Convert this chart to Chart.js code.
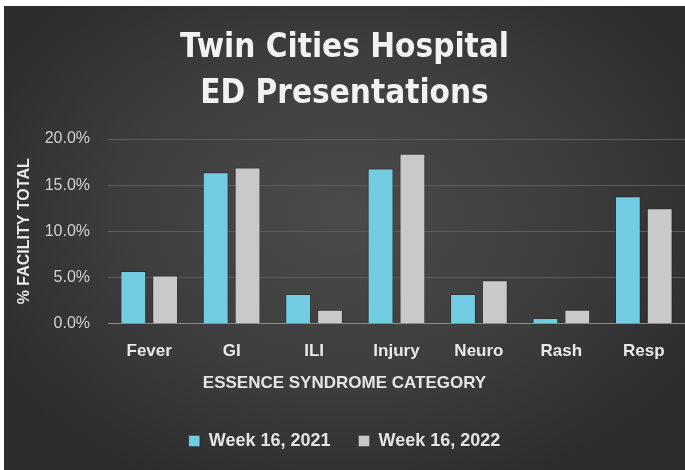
<!DOCTYPE html>
<html>
<head>
<meta charset="utf-8">
<script src="https://cdn.jsdelivr.net/npm/chart.js@4.4.1/dist/chart.umd.min.js"></script>
<style>
  html, body { margin: 0; padding: 0; background: #ffffff; overflow: hidden; }
  #wrap {
    position: absolute; left: 4px; top: 6px; width: 681px; height: 464px;
    background: radial-gradient(ellipse 60% 65% at 50% 45%, #4b4b4b 0%, #3d3d3d 55%, #2c2c2c 100%);
  }
</style>
</head>
<body>
<div id="wrap"><canvas id="edChart" width="681" height="464"></canvas></div>
<script>
// Twin Cities Hospital - ED presentations by ESSENCE syndrome category (% of facility total)
const categories = ['Fever', 'GI', 'ILI', 'Injury', 'Neuro', 'Rash', 'Resp'];
const week16_2021 = [5.7, 16.4, 3.2, 16.8, 3.2, 0.6, 13.8];
const week16_2022 = [5.2, 16.9, 1.5, 18.4, 4.7, 1.5, 12.5];
const seriesLabels = ['Week 16, 2021', 'Week 16, 2022'];
const yTicks = [0, 5, 10, 15, 20];

const fontMain = '"Liberation Sans", Arial, sans-serif';

const ctx = document.getElementById('edChart').getContext('2d');
new Chart(ctx, {
    type: 'bar',
    data: {
        labels: categories,
        datasets: [
            {
                label: seriesLabels[0],
                data: week16_2021,
                backgroundColor: '#72cde2',
                borderColor: 'rgba(20,20,20,0.3)',
                borderWidth: 1
            },
            {
                label: seriesLabels[1],
                data: week16_2022,
                backgroundColor: '#c9c9c9',
                borderColor: 'rgba(20,20,20,0.3)',
                borderWidth: 1
            }
        ]
    },
    options: {
        responsive: false,
        animation: false,
        categoryPercentage: 0.773,
        barPercentage: 0.81,
        layout: { padding: { left: 0, right: 0, top: 0, bottom: 10 } },
        plugins: {
            title: {
                display: true,
                text: ['Twin Cities Hospital', 'ED Presentations'],
                color: '#f2f2f2',
                font: { family: '"DejaVu Sans Condensed", "DejaVu Sans", sans-serif', size: 33, weight: 'bold', lineHeight: 1.394 },
                padding: { top: 19, bottom: 22 }
            },
            subtitle: {
                display: true,
                text: 'ESSENCE SYNDROME CATEGORY',
                position: 'bottom',
                weight: 500,
                color: '#e4e4e4',
                font: { family: fontMain, size: 17, weight: 'bold' },
                padding: { top: 5, bottom: 10 }
            },
            legend: {
                position: 'bottom',
                labels: {
                    color: '#e4e4e4',
                    boxWidth: 11,
                    boxHeight: 11,
                    padding: 28,
                    font: { family: fontMain, size: 18, weight: 'bold' }
                }
            },
            tooltip: { enabled: false }
        },
        scales: {
            x: {
                grid: { display: false, drawTicks: false },
                border: { color: '#8c8c8c', width: 1 },
                ticks: {
                    color: '#e8e8e8',
                    padding: 18,
                    font: { family: fontMain, size: 17, weight: 'bold' }
                },
                afterFit: (scale) => { scale.height = 45; }
            },
            y: {
                min: 0,
                max: 20,
                afterBuildTicks: (scale) => { scale.ticks = yTicks.map(v => ({ value: v })); },
                grid: { color: '#5c5c5c', drawTicks: false },
                border: { display: false },
                ticks: {
                    color: '#d2d2d2',
                    padding: 18,
                    font: { family: fontMain, size: 16 },
                    callback: (v) => v.toFixed(1) + '%'
                },
                title: {
                    display: true,
                    text: '% FACILITY TOTAL',
                    color: '#e8e8e8',
                    font: { family: fontMain, size: 16, weight: 'bold' },
                    padding: { top: 11, bottom: 0 }
                },
                afterFit: (scale) => { scale.width = 104; }
            }
        }
    }
});
</script>
</body>
</html>
